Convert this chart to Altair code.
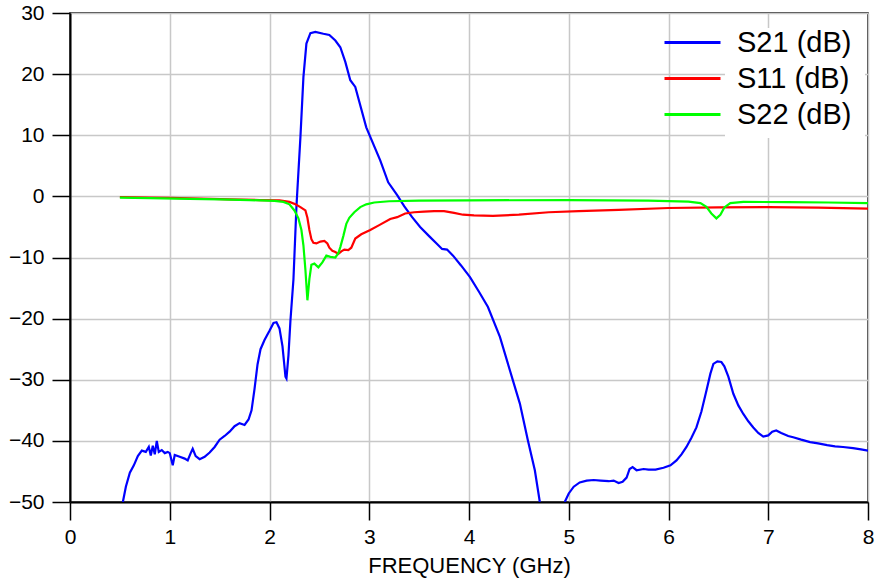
import altair as alt
import pandas as pd

# ---- data ----
s21_a_f = [0.53, 0.56, 0.60, 0.64, 0.68, 0.72, 0.76, 0.79, 0.81, 0.83, 0.85, 0.87, 0.89, 0.92, 0.95, 0.98,
           1.00, 1.03, 1.05, 1.10, 1.15, 1.18, 1.21, 1.23, 1.26, 1.30, 1.35, 1.40, 1.45, 1.50, 1.55, 1.60,
           1.65, 1.70, 1.75, 1.79, 1.82, 1.85, 1.88, 1.91, 1.95, 2.00, 2.04, 2.07, 2.10, 2.13, 2.16, 2.17,
           2.19, 2.21, 2.24, 2.27, 2.31, 2.34, 2.37, 2.41, 2.46, 2.54, 2.60, 2.66, 2.71, 2.76, 2.81, 2.86,
           2.97, 3.11, 3.19, 3.28, 3.35, 3.43, 3.51, 3.60, 3.68, 3.73, 3.78, 3.84, 3.92, 4.01, 4.10, 4.19,
           4.31, 4.44, 4.51, 4.59, 4.66, 4.71]
s21_a_v = [-50.0, -47.5, -45.2, -44.0, -42.5, -41.6, -41.8, -41.0, -42.4, -40.8, -42.2, -40.0, -41.8, -41.5, -42.0, -41.8,
           -42.0, -44.0, -42.3, -42.6, -42.9, -43.2, -42.0, -41.3, -42.5, -43.0, -42.6, -41.9, -41.0, -39.8, -39.2, -38.5,
           -37.6, -37.1, -37.4, -36.5, -35.0, -31.5, -27.5, -25.0, -23.5, -22.0, -20.7, -20.6, -21.6, -24.5, -29.5, -29.8,
           -26.0, -20.3, -13.6, -1.7, 9.7, 19.5, 25.0, 26.7, 26.9, 26.6, 26.4, 25.5, 24.4, 22.0, 19.0, 17.9,
           11.3, 5.9, 2.3, 0.2, -1.6, -3.4, -5.0, -6.5, -7.8, -8.6, -8.7, -9.7, -11.3, -13.2, -15.6, -18.1,
           -23.0, -30.1, -33.9, -39.9, -44.8, -50.0]

s21_b_f = [4.96, 5.00, 5.05, 5.11, 5.18, 5.25, 5.32, 5.40, 5.45, 5.50, 5.54, 5.58, 5.61, 5.64, 5.68, 5.75,
           5.80, 5.87, 5.95, 6.02, 6.08, 6.13, 6.18, 6.23, 6.28, 6.33, 6.38, 6.42, 6.45, 6.49, 6.53, 6.56,
           6.60, 6.65, 6.70, 6.75, 6.80, 6.85, 6.90, 6.95, 7.00, 7.04, 7.08, 7.13, 7.20, 7.25, 7.33, 7.42,
           7.50, 7.59, 7.67, 7.75, 7.85, 7.93, 8.00]
s21_b_v = [-50.0, -48.6, -47.5, -46.8, -46.5, -46.4, -46.5, -46.6, -46.5, -46.9, -46.7, -46.0, -44.6, -44.3, -44.8, -44.6,
           -44.7, -44.7, -44.4, -44.0, -43.2, -42.2, -41.0, -39.5, -37.8, -35.2, -31.8, -29.0, -27.4, -27.0, -27.1, -27.8,
           -29.5, -32.3, -34.2, -35.6, -36.8, -37.8, -38.7, -39.3, -39.1, -38.5, -38.3, -38.7, -39.2, -39.4, -39.8, -40.2,
           -40.4, -40.7, -40.9, -41.0, -41.2, -41.4, -41.6]

s11_f = [0.5, 0.8, 1.0, 1.3, 1.6, 1.9, 2.1, 2.2, 2.26, 2.31, 2.36, 2.38, 2.40, 2.42, 2.44, 2.47, 2.51, 2.55,
         2.58, 2.60, 2.63, 2.66, 2.69, 2.72, 2.75, 2.79, 2.82, 2.86, 2.92, 3.01, 3.10, 3.21, 3.28, 3.36,
         3.45, 3.55, 3.65, 3.75, 3.85, 3.94, 4.05, 4.24, 4.50, 4.80, 5.1, 5.5, 6.0, 6.5, 7.0, 7.5, 8.0]
s11_v = [-0.1, -0.2, -0.25, -0.35, -0.5, -0.6, -0.65, -0.9, -1.3, -1.75, -2.3, -3.5, -5.5, -7.0, -7.6, -7.7, -7.4, -7.3,
         -7.7, -8.4, -8.9, -9.1, -9.4, -9.0, -8.7, -8.8, -8.4, -6.9, -6.2, -5.5, -4.7, -3.7, -3.4, -2.8,
         -2.6, -2.5, -2.4, -2.4, -2.7, -3.0, -3.1, -3.2, -3.0, -2.6, -2.4, -2.2, -1.9, -1.8, -1.75, -1.85, -2.0]

s22_f = [0.5, 0.8, 1.2, 1.5, 1.8, 2.05, 2.14, 2.20, 2.25, 2.29, 2.32, 2.34, 2.36, 2.38, 2.40, 2.42, 2.45, 2.49,
         2.53, 2.57, 2.61, 2.66, 2.69, 2.71, 2.74, 2.77, 2.80, 2.85, 2.91, 2.97, 3.05, 3.20, 3.5, 4.0, 5.0,
         5.8, 6.2, 6.32, 6.38, 6.43, 6.48, 6.52, 6.56, 6.62, 6.75, 7.2, 7.6, 8.0]
s22_v = [-0.2, -0.3, -0.4, -0.5, -0.6, -0.75, -0.9, -1.3, -2.3, -3.6, -5.5, -8.0, -12.0, -17.0, -13.5, -11.2, -11.0, -11.6,
         -10.8, -9.7, -9.9, -10.0, -9.3, -8.3, -6.5, -4.5, -3.5, -2.6, -1.75, -1.3, -1.0, -0.8, -0.7, -0.65, -0.6,
         -0.7, -0.85, -1.1, -1.7, -2.8, -3.6, -3.0, -1.8, -1.1, -0.9, -0.95, -1.0, -1.1]

series_names = ["S21 (dB)", "S11 (dB)", "S22 (dB)"]
series_colors = ["#0000ff", "#ff0000", "#00ff00"]
x_ticks = [0, 1, 2, 3, 4, 5, 6, 7, 8]
y_ticks = [-50, -40, -30, -20, -10, 0, 10, 20, 30]

rows = []
for f, v in zip(s21_a_f, s21_a_v):
    rows.append({"freq": f, "value": v, "series": "S21 (dB)", "seg": "S21a"})
for f, v in zip(s21_b_f, s21_b_v):
    rows.append({"freq": f, "value": v, "series": "S21 (dB)", "seg": "S21b"})
for f, v in zip(s11_f, s11_v):
    rows.append({"freq": f, "value": v, "series": "S11 (dB)", "seg": "S11"})
for f, v in zip(s22_f, s22_v):
    rows.append({"freq": f, "value": v, "series": "S22 (dB)", "seg": "S22"})
df = pd.DataFrame(rows)

FONT = "Liberation Sans"

lines = alt.Chart(df).mark_line(strokeWidth=2.2, clip=True).encode(
    x=alt.X("freq:Q",
            scale=alt.Scale(domain=[0, 8], nice=False, zero=False),
            axis=alt.Axis(values=x_ticks, title="FREQUENCY (GHz)", format="d", labelFlush=False)),
    y=alt.Y("value:Q",
            scale=alt.Scale(domain=[-50, 30], nice=False, zero=False),
            axis=alt.Axis(values=y_ticks, title=None, format="d", labelFlush=False)),
    color=alt.Color("series:N",
                    scale=alt.Scale(domain=series_names, range=series_colors),
                    legend=alt.Legend(title=None, orient="none", legendX=608, legendY=15,
                                      symbolType="M-4,0H4", symbolSize=196, symbolStrokeWidth=3,
                                      symbolFillColor="transparent",
                                      labelFontSize=29, labelFont=FONT, labelColor="black",
                                      labelOffset=30, rowPadding=6, padding=0,
                                      labelLimit=300)),
    detail="seg:N",
    order=alt.Order("freq:Q"),
)

box = alt.Chart(pd.DataFrame({"k": [0]})).mark_rect(color="white").encode(
    x=alt.value(655), x2=alt.value(795), y=alt.value(15), y2=alt.value(125)
)

chart = alt.layer(box, lines).properties(
    width=798, height=489,
    autosize=alt.AutoSizeParams(type="none"),
    padding={"left": 70, "top": 13, "right": 8, "bottom": 82},
).configure_view(
    stroke="#000000", strokeWidth=1.5
).configure_axis(
    grid=True, gridColor="#c8c8c8", gridWidth=1.5,
    domainColor="#000000", domainWidth=2,
    tickColor="#000000", tickWidth=1.5, tickSize=18,
    labelFont=FONT, labelFontSize=21, labelColor="#000000",
    titleFont=FONT, titleFontSize=22, titleFontWeight="normal", titleColor="#000000",
).configure_axisX(
    labelPadding=6, titlePadding=8
).configure_axisY(
    labelPadding=8
)

chart.save("out.html", embed_options={"renderer": "svg", "actions": False})
